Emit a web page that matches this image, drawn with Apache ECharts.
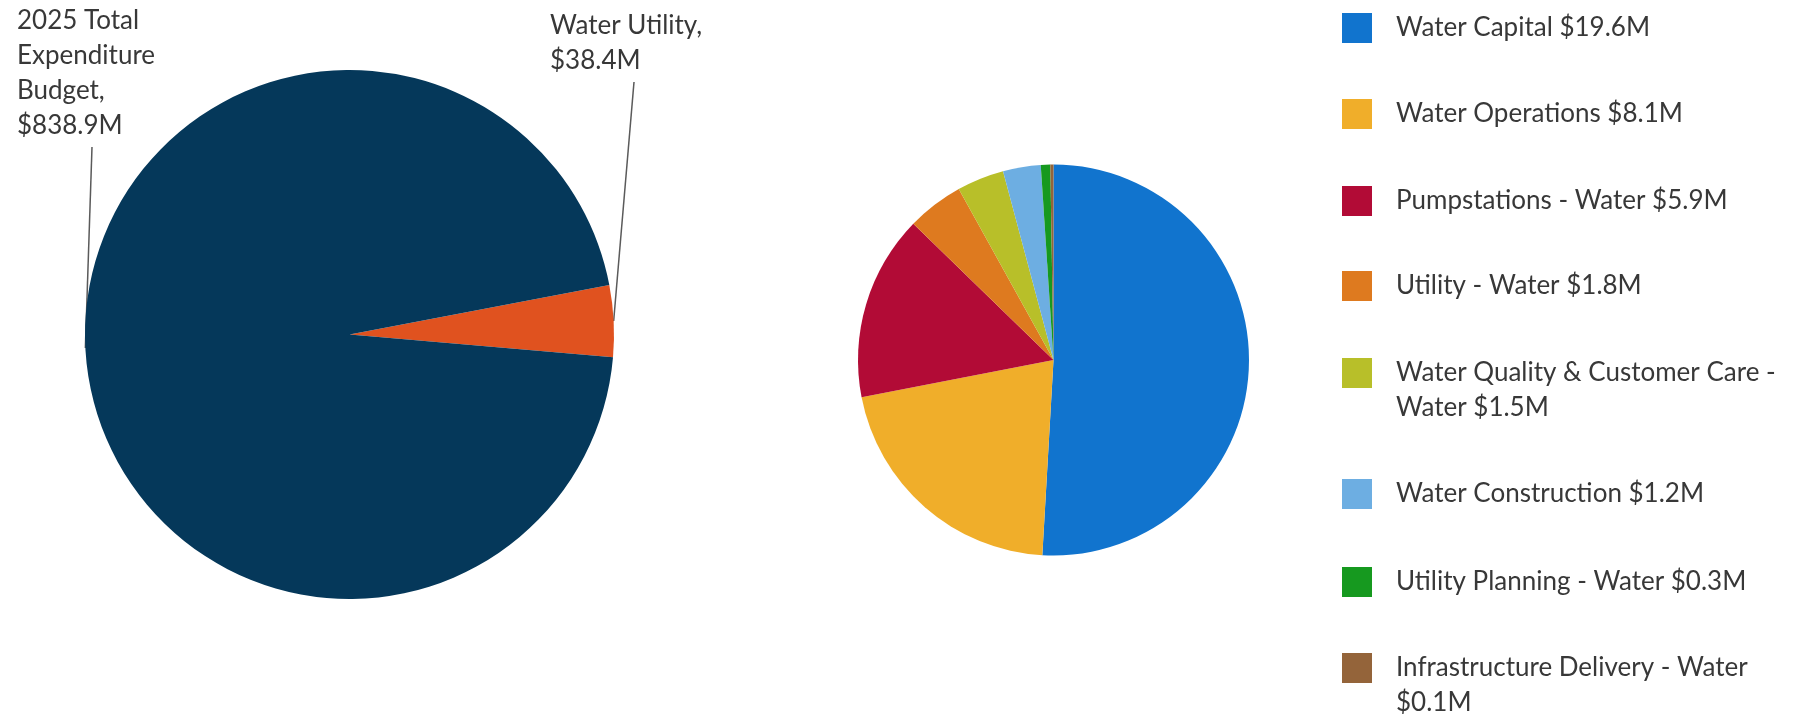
<!DOCTYPE html>
<html><head><meta charset="utf-8">
<script src="https://cdn.jsdelivr.net/npm/echarts@6/dist/echarts.min.js"></script>
<style>html,body{margin:0;padding:0;background:#fff}#c{width:1799px;height:715px}</style>
</head><body><div id="c"></div>
<script>
// ---- data ----
const overviewNames = ['Water Utility', '2025 Total Expenditure Budget'];
const overviewValues = [38.4, 838.9];
const overviewColors = ['#E0521F', '#05385A'];

const detailNames = ['Water Capital', 'Water Operations', 'Pumpstations - Water', 'Utility - Water',
  'Water Quality & Customer Care - Water', 'Water Construction', 'Utility Planning - Water',
  'Infrastructure Delivery - Water'];
const detailValues = [19.6, 8.1, 5.9, 1.8, 1.5, 1.2, 0.3, 0.1];
const detailColors = ['#1174CE', '#F0AE2A', '#B20B36', '#DE7A1F', '#B8BF29', '#6DAEE2', '#16991F', '#94643A'];

// ---- layout / style ----
const FONT = 'Lato, "Open Sans", sans-serif';
const FS = 26, LH = 35;
const TEXT_COLOR = '#383838';
const legendIconCenters = [26, 112, 199, 284, 371, 492, 580, 666];
const legendLeft = 1342, legendTextGap = 19, legendWidth = 405;
const overviewLabelPlacement = [
  { x: 550, y: 8, lineEnd: [634, 82] },
  { x: 17, y: 3, lineEnd: [92, 147] }
];

const money = v => '$' + v.toFixed(1) + 'M';

const ctx = document.createElement('canvas').getContext('2d');
ctx.font = FS + 'px ' + FONT;

const legends = detailNames.map((name, i) => {
  const text = name + ' ' + money(detailValues[i]);
  const wrapped = ctx.measureText(text).width > legendWidth;
  // a leading empty line keeps the first text line level with the colour square
  const shown = wrapped ? '\n' + text : text;
  const lines = wrapped ? 3 : 1;
  return {
    orient: 'vertical', left: legendLeft,
    top: legendIconCenters[i] - lines * LH / 2 + 2,
    padding: 0, itemWidth: 30, itemHeight: 30, icon: 'rect',
    selectedMode: false,
    data: [name],
    formatter: () => shown,
    textStyle: {
      fontFamily: FONT, fontSize: FS, color: TEXT_COLOR, lineHeight: LH,
      width: legendWidth, overflow: 'break',
      padding: [0, 0, 0, legendTextGap]
    }
  };
});

const chart = echarts.init(document.getElementById('c'), null, { renderer: 'canvas' });
chart.setOption({
  backgroundColor: '#ffffff',
  animation: false,
  legend: legends,
  series: [
    {
      type: 'pie',
      center: [349.5, 334.5],
      radius: 264.5,
      startAngle: 10.8,
      clockwise: true,
      avoidLabelOverlap: false,
      emphasis: { disabled: true },
      data: overviewNames.map((n, i) => ({ name: n, value: overviewValues[i], itemStyle: { color: overviewColors[i] } })),
      label: {
        show: true, position: 'outside',
        formatter: p => p.name + ', ' + money(p.value),
        fontFamily: FONT, fontSize: FS, lineHeight: LH, color: TEXT_COLOR,
        width: 175, overflow: 'break'
      },
      labelLine: { show: true, length: 10, length2: 10, lineStyle: { color: '#5a5a5a', width: 1.5 } },
      labelLayout: function (p) {
        const pl = overviewLabelPlacement[p.dataIndex];
        const start = p.labelLinePoints ? p.labelLinePoints[0] : pl.lineEnd;
        return {
          x: pl.x, y: pl.y, align: 'left', verticalAlign: 'top',
          labelLinePoints: [start, start, pl.lineEnd]
        };
      }
    },
    {
      type: 'pie',
      center: [1053.5, 360],
      radius: 195.5,
      startAngle: 90,
      clockwise: true,
      emphasis: { disabled: true },
      label: { show: false },
      labelLine: { show: false },
      data: detailNames.map((n, i) => ({ name: n, value: detailValues[i], itemStyle: { color: detailColors[i] } }))
    }
  ]
});
</script>
</body></html>
